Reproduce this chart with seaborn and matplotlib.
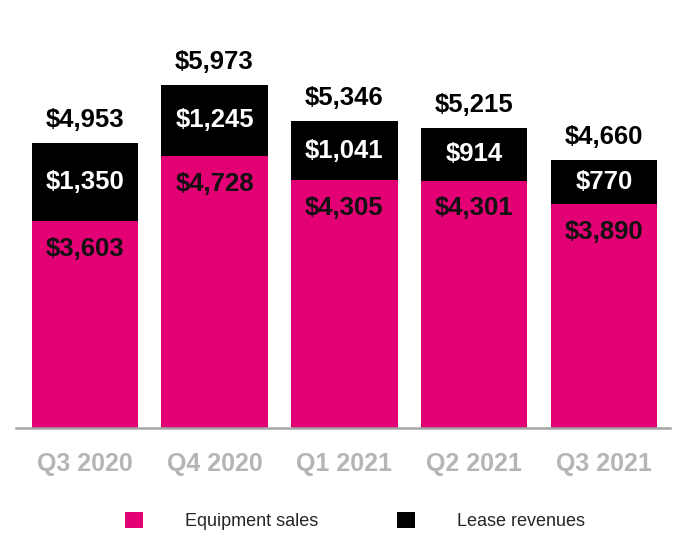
import matplotlib
matplotlib.use("Agg")
import matplotlib.pyplot as plt
import seaborn as sns
from matplotlib.patches import Patch

quarters = ["Q3 2020", "Q4 2020", "Q1 2021", "Q2 2021", "Q3 2021"]
equipment = [3603, 4728, 4305, 4301, 3890]
lease = [1350, 1245, 1041, 914, 770]
totals = [4953, 5973, 5346, 5215, 4660]

MAGENTA = "#E20074"
sns.set_theme(style="white")
plt.rcParams["font.family"] = ["Liberation Sans", "DejaVu Sans"]

fig = plt.figure(figsize=(6.9, 5.6), dpi=100)
ax = fig.add_axes([16/690, 1-428/560, (670-16)/690, (428-10)/560])

sns.barplot(x=quarters, y=totals, color="black", width=0.82, ax=ax, saturation=1, linewidth=0)
sns.barplot(x=quarters, y=equipment, color=MAGENTA, width=0.82, ax=ax, saturation=1, linewidth=0)

ax.set_xlim(-0.53, 4.51)
ax.set_ylim(0, 7270)
for s in ["top", "right", "left"]:
    ax.spines[s].set_visible(False)
ax.spines["bottom"].set_color("#A6A6A6")
ax.spines["bottom"].set_linewidth(1.8)
ax.set_yticks([])
ax.set_xlabel("")
ax.set_ylabel("")
ax.tick_params(axis="x", length=0, pad=17)
for lbl in ax.get_xticklabels():
    lbl.set_fontsize(18)
    lbl.set_fontweight("bold")
    lbl.set_color("#B5B5B5")

for i in range(len(quarters)):
    ax.annotate(f"${totals[i]:,}", (i, totals[i]), xytext=(0, 16.5), textcoords="offset points",
                ha="center", va="center", fontsize=18.5, fontweight="bold", color="black")
    ax.text(i, equipment[i] + lease[i] / 2, f"${lease[i]:,}", ha="center", va="center",
            fontsize=18.5, fontweight="bold", color="white")
    ax.annotate(f"${equipment[i]:,}", (i, equipment[i]), xytext=(0, -20), textcoords="offset points",
                ha="center", va="center", fontsize=18.5, fontweight="bold", color="#111111")

handles = [Patch(facecolor=MAGENTA, edgecolor="none", label="Equipment sales"),
           Patch(facecolor="black", edgecolor="none", label="Lease revenues")]
fig.legend(handles=handles, loc="center", bbox_to_anchor=(355/690, 1-521/560), ncol=2,
           frameon=False, handlelength=1.0, handleheight=0.95,
           handletextpad=2.28, columnspacing=4.4,
           prop={"family": ["Liberation Sans", "DejaVu Sans"], "size": 13})
fig.savefig("out.png", dpi=100)
